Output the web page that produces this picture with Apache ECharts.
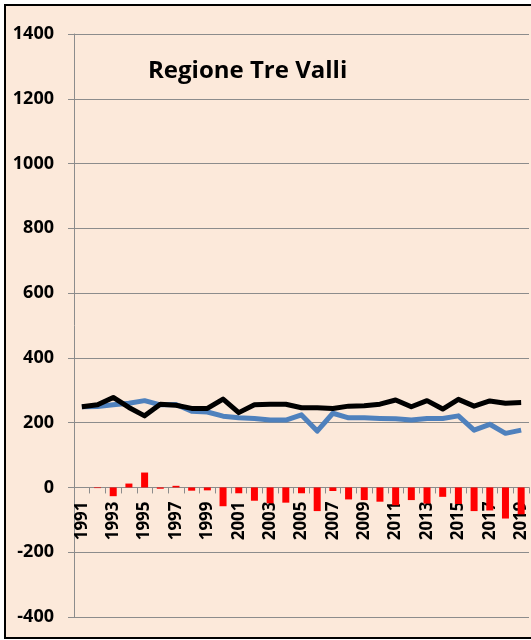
<!DOCTYPE html>
<html>
<head>
<meta charset="utf-8">
<script src="https://cdn.jsdelivr.net/npm/echarts@6/dist/echarts.min.js"></script>
<style>
  html, body { margin: 0; padding: 0; background: #fff; }
  #chart { width: 531px; height: 640px; }
</style>
</head>
<body>
<div id="chart"></div>
<script>
const anni = ["1991", "1992", "1993", "1994", "1995", "1996", "1997", "1998", "1999", "2000",
  "2001", "2002", "2003", "2004", "2005", "2006", "2007", "2008", "2009", "2010",
  "2011", "2012", "2013", "2014", "2015", "2016", "2017", "2018", "2019"];
// linea nera
const serieNera = [249, 255, 278, 247, 221, 257, 254, 244, 244, 273,
  231, 255, 257, 257, 246, 246, 244, 251, 252, 257,
  270, 249, 268, 242, 272, 251, 267, 260, 262];
// linea blu
const serieBlu = [249, 250, 255, 260, 268, 255, 256, 235, 233, 220,
  215, 213, 208, 208, 224, 174, 229, 215, 215, 213,
  212, 208, 213, 213, 221, 177, 195, 167, 177];
// barre rosse
const differenza = [0, -2, -27, 12, 46, -4, 5, -10, -9, -58,
  -18, -41, -49, -47, -18, -73, -11, -37, -39, -44,
  -55, -39, -50, -29, -51, -73, -71, -96, -83];
const yTicks = { min: -400, max: 1400, step: 200 };

const chart = echarts.init(document.getElementById("chart"));
const font = "'Open Sans', 'Noto Sans', sans-serif";
const grigio = "#8c8c8c";

// grid: top 34, bottom 23 -> altezza 583; asse x spostato sullo zero
const gridTop = 34, gridBottom = 23;
const altezza = 640 - gridTop - gridBottom;
const offsetZero = -altezza * (0 - yTicks.min) / (yTicks.max - yTicks.min);

chart.setOption({
  backgroundColor: "#fff",
  animation: false,
  grid: { left: 74, right: 2, top: gridTop, bottom: gridBottom, containLabel: false },
  graphic: [
    {
      type: "rect",
      z: -10,
      shape: { x: 5, y: 5, width: 560, height: 633 },
      style: { fill: "#fce9da", stroke: "#000", lineWidth: 2 },
    },
    {
      type: "text",
      left: 148,
      top: 59,
      style: {
        text: "Regione Tre Valli",
        font: "bold 24px " + font,
        fill: "#000",
      },
    },
  ],
  xAxis: {
    type: "category",
    data: anni,
    boundaryGap: true,
    offset: offsetZero,
    axisLine: { onZero: false, lineStyle: { color: grigio, width: 1 } },
    axisTick: { show: true, length: 6, interval: 0, lineStyle: { color: grigio } },
    axisLabel: {
      interval: 1,
      rotate: 90,
      margin: 14,
      color: "#000",
      fontFamily: font,
      fontWeight: "bold",
      fontSize: 17,
    },
    splitLine: { show: false },
  },
  yAxis: {
    type: "value",
    min: yTicks.min,
    max: yTicks.max,
    interval: yTicks.step,
    axisLine: { show: true, lineStyle: { color: grigio, width: 1 } },
    axisTick: { show: true, length: 6, lineStyle: { color: grigio } },
    axisLabel: {
      margin: 20,
      color: "#000",
      fontFamily: font,
      fontWeight: "bold",
      fontSize: 18,
      formatter: (v) => String(v),
    },
    splitLine: { show: true, lineStyle: { color: grigio, width: 1 } },
  },
  series: [
    {
      name: "differenza",
      type: "bar",
      barWidth: 7,
      itemStyle: { color: "#ff0000" },
      data: differenza,
    },
    {
      name: "blu",
      type: "line",
      symbol: "none",
      lineStyle: { color: "#4f81bd", width: 5, join: "round" },
      data: serieBlu,
    },
    {
      name: "nera",
      type: "line",
      symbol: "none",
      lineStyle: { color: "#000", width: 5, join: "round" },
      data: serieNera,
    },
  ],
});
</script>
</body>
</html>
